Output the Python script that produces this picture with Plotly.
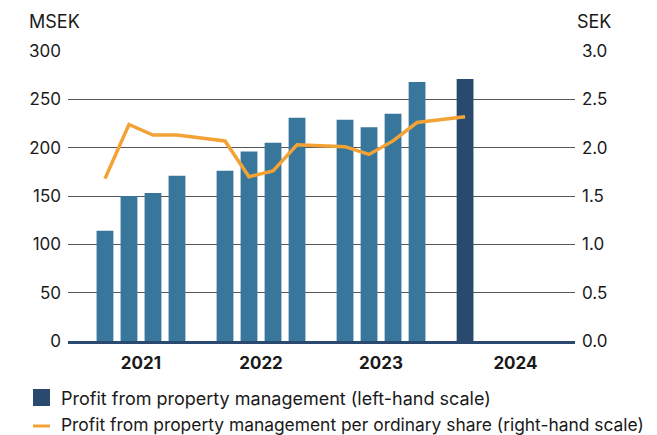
import plotly.graph_objects as go

# quarterly values
periods = ["Q1 2021", "Q2 2021", "Q3 2021", "Q4 2021",
           "Q1 2022", "Q2 2022", "Q3 2022", "Q4 2022",
           "Q1 2023", "Q2 2023", "Q3 2023", "Q4 2023",
           "Q1 2024"]
profit_msek = [114, 150, 153, 171, 176, 196, 205, 231, 229, 221, 235, 268, 271]
profit_per_share = [1.68, 2.24, 2.13, 2.13, 2.07, 1.70, 1.76, 2.03, 2.01, 1.93, 2.07, 2.26, 2.32]
years = ["2021", "2022", "2023", "2024"]
year_label_pos = [1.5, 6.5, 11.5, 17.1]

left_ticks = [0, 50, 100, 150, 200, 250, 300]
right_ticks = ["0.0", "0.5", "1.0", "1.5", "2.0", "2.5", "3.0"]

BAR = "#38769B"
BAR_LAST = "#294A6E"
LINE = "#F3A235"
TXT = "#1a1a1a"
FONT = "Inter"

# page body adds an 8px margin, so the figure is drawn 8px smaller
OFF = 8
W, H = 657 - OFF, 435 - OFF
L, T = 68 - OFF, 51 - OFF
R, B = W - (575 - OFF), H - (341 - OFF)


def px(x):
    return (x - OFF - L) / (W - L - R)


def py(y):
    return (H - B - (y - OFF)) / (H - T - B)


# one gap slot between years
xpos = [(int(p[-4:]) - 2021) * 5 + int(p[1]) - 1 for p in periods]
colors = [BAR_LAST if p == periods[-1] else BAR for p in periods]

fig = go.Figure()
fig.add_trace(go.Bar(x=xpos, y=profit_msek, marker_color=colors, width=0.7,
                     marker_line_width=0, showlegend=False))
fig.add_trace(go.Scatter(x=xpos, y=profit_per_share, yaxis="y2", mode="lines",
                         line=dict(color=LINE, width=3.5), showlegend=False))

fig.update_layout(
    width=W, height=H,
    margin=dict(l=L, r=R, t=T, b=B),
    paper_bgcolor="white", plot_bgcolor="white",
    font=dict(family=FONT, size=17, color=TXT),
    xaxis=dict(range=[-1.54, 19.58], tickvals=year_label_pos, ticktext=years,
               tickfont=dict(family=FONT, size=17, color=TXT, weight="bold"),
               showgrid=False, zeroline=False, showline=True,
               linecolor=BAR_LAST, linewidth=3, ticks="", ticklabelstandoff=5),
    yaxis=dict(range=[0, 300], tickvals=left_ticks, showgrid=True,
               gridcolor="#555555", gridwidth=1, zeroline=False, ticks="",
               tickfont=dict(size=17), ticklabelstandoff=6),
    yaxis2=dict(range=[0, 3], overlaying="y", side="right",
                tickvals=[0, 0.5, 1, 1.5, 2, 2.5, 3], ticktext=right_ticks,
                showgrid=False, zeroline=False, ticks="",
                tickfont=dict(size=17), ticklabelstandoff=6),
)

fig.add_annotation(text="MSEK", x=px(27), y=py(22), xref="paper", yref="paper",
                   xanchor="left", yanchor="middle", showarrow=False,
                   font=dict(size=18))
fig.add_annotation(text="SEK", x=px(575), y=py(22), xref="paper", yref="paper",
                   xanchor="left", yanchor="middle", showarrow=False,
                   font=dict(size=18))

# legend drawn by hand so the glyphs match the small square / short dash
fig.add_shape(type="rect", xref="paper", yref="paper",
              x0=px(33), x1=px(50), y0=py(406), y1=py(389),
              fillcolor=BAR_LAST, line_width=0)
fig.add_shape(type="line", xref="paper", yref="paper",
              x0=px(33), x1=px(50), y0=py(426), y1=py(426),
              line=dict(color=LINE, width=3))
fig.add_annotation(text="Profit from property management (left-hand scale)",
                   x=px(59), y=py(398), xref="paper", yref="paper",
                   xanchor="left", yanchor="middle", showarrow=False,
                   font=dict(size=18))
fig.add_annotation(text="Profit from property management per ordinary share (right-hand scale)",
                   x=px(59), y=py(424), xref="paper", yref="paper",
                   xanchor="left", yanchor="middle", showarrow=False,
                   font=dict(size=17.4))

fig.write_html("out.html")
